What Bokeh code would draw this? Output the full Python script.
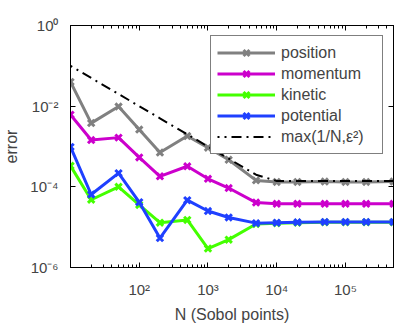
from bokeh.plotting import figure
from bokeh.models import LogAxis, FixedTicker, Legend, LegendItem, Range1d
from bokeh.embed import file_html
from bokeh.resources import INLINE

N = [10, 20, 50, 100, 200, 500, 1000, 2000, 5000, 10000, 20000, 50000, 100000, 200000, 500000]
position_log = [-1.40, -2.42, -2.01, -2.58, -3.15, -2.74, -3.03, -3.33, -3.84, -3.88, -3.88, -3.87, -3.88, -3.88, -3.87]
momentum_log = [-2.21, -2.84, -2.78, -3.27, -3.74, -3.49, -3.80, -4.03, -4.39, -4.42, -4.42, -4.42, -4.42, -4.42, -4.42]
kinetic_log = [-3.48, -4.32, -4.00, -4.45, -4.89, -4.82, -5.53, -5.31, -4.92, -4.90, -4.89, -4.88, -4.88, -4.88, -4.88]
potential_log = [-3.01, -4.19, -3.66, -4.38, -5.27, -4.33, -4.60, -4.76, -4.90, -4.89, -4.88, -4.87, -4.87, -4.87, -4.87]
bound = [1e-1, 5e-2, 2e-2, 1e-2, 5e-3, 2e-3, 1e-3, 5e-4, 2e-4, 1.4e-4, 1.4e-4, 1.4e-4, 1.4e-4, 1.4e-4, 1.4e-4]

position = [10 ** v for v in position_log]
momentum = [10 ** v for v in momentum_log]
kinetic = [10 ** v for v in kinetic_log]
potential = [10 ** v for v in potential_log]

x_ticks = [1e2, 1e3, 1e4, 1e5]
x_labels = ["10\u00b2", "10\u00b3", "10\u2074", "10\u2075"]
y_ticks = [1e-6, 1e-4, 1e-2, 1.0]
y_labels = ["10\u207b\u2076", "10\u207b\u2074", "10\u207b\u00b2", "10\u2070"]

FONT = "Liberation Sans"
X0, X1 = 10, 5e5
Y0, Y1 = 1e-6, 1.0

p = figure(width=401, height=325, x_axis_type="log", y_axis_type="log",
           x_range=Range1d(X0, X1), y_range=Range1d(Y0, Y1),
           output_backend="svg", toolbar_location=None,
           min_border_left=68, min_border_right=8, min_border_top=25, min_border_bottom=55)
p.xgrid.visible = False
p.ygrid.visible = False
p.outline_line_color = "black"
p.outline_line_width = 1
p.background_fill_color = "white"
p.border_fill_color = "white"

minor_x = [m * 10 ** e for e in range(1, 6) for m in range(2, 10) if m * 10 ** e <= 5e5]


def style(ax, labels=True):
    ax.major_tick_in = 5
    ax.major_tick_out = 0
    ax.minor_tick_in = 3
    ax.minor_tick_out = 0
    ax.axis_line_color = "black"
    ax.major_label_text_font = FONT
    ax.major_label_text_font_size = "15px"
    ax.axis_label_text_font = FONT
    ax.axis_label_text_font_size = "16px"
    ax.axis_label_text_font_style = "normal"
    if not labels:
        ax.major_label_text_font_size = "0px"
        ax.major_label_text_color = None


xa = p.xaxis[0]
xa.ticker = FixedTicker(ticks=x_ticks, minor_ticks=minor_x)
xa.major_label_overrides = {t: l for t, l in zip(x_ticks, x_labels)}
xa.axis_label = "N (Sobol points)"
style(xa)
xa.major_label_standoff = 13
xa.axis_label_standoff = 5

ya = p.yaxis[0]
ya.ticker = FixedTicker(ticks=y_ticks, minor_ticks=[])
ya.major_label_overrides = {t: l for t, l in zip(y_ticks, y_labels)}
ya.axis_label = "error"
style(ya)
ya.major_label_standoff = 12
ya.axis_label_standoff = 7

top = LogAxis(ticker=FixedTicker(ticks=x_ticks, minor_ticks=minor_x))
style(top, labels=False)
p.add_layout(top, "above")
right = LogAxis(ticker=FixedTicker(ticks=y_ticks, minor_ticks=[]))
style(right, labels=False)
p.add_layout(right, "right")

series = [
    ("position", position, "#808080"),
    ("momentum", momentum, "#cc00cc"),
    ("kinetic", kinetic, "#44ff00"),
    ("potential", potential, "#1f40ff"),
]
items = []
for name, vals, col in series:
    r1 = p.line(N, vals, line_color=col, line_width=3)
    r2 = p.scatter(N, vals, marker="x", size=9, line_color=col, line_width=3)
    items.append(LegendItem(label=name, renderers=[r1, r2]))

rb = p.line(N, bound, line_color="black", line_width=2, line_dash="10 5 2 5", line_dash_offset=8)
items.append(LegendItem(label="max(1/N,\u03b5\u00b2)", renderers=[rb]))

legend = Legend(items=items, location="top_right")
legend.label_text_font = FONT
legend.label_text_font_size = "16px"
legend.glyph_width = 58
legend.glyph_height = 21
legend.label_height = 21
legend.label_width = 95
legend.spacing = 0
legend.label_standoff = 6
legend.padding = 6
legend.margin = 10
legend.border_line_color = "black"
legend.border_line_width = 1
legend.background_fill_alpha = 1.0
p.add_layout(legend)

open("out.html", "w").write(file_html(p, INLINE))
